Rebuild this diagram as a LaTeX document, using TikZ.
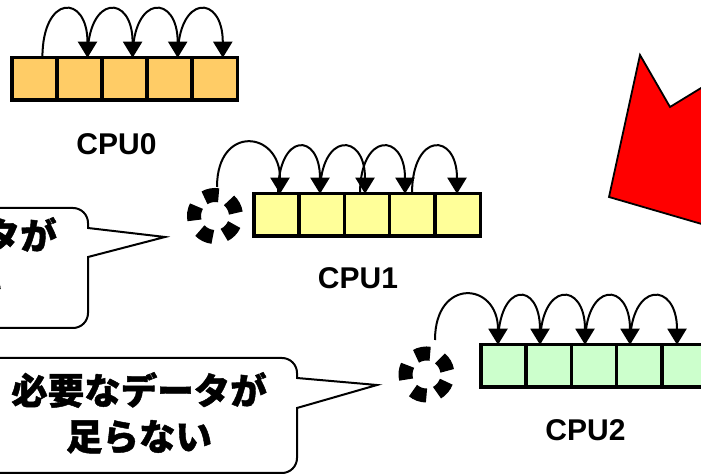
\documentclass[tikz,border=0pt]{standalone}
\usepackage{fontspec}
\setmainfont{Liberation Sans}
\newfontfamily\jpfont{Noto Sans CJK JP}[BoldFeatures={FakeBold=1.2}]
\usetikzlibrary{arrows.meta}
\definecolor{cpuorange}{RGB}{255,204,102}
\definecolor{cpuyellow}{RGB}{255,255,153}
\definecolor{cpugreen}{RGB}{204,255,204}
\tikzset{
  cell/.style={draw=black, line width=3.5pt, minimum width=45.3pt, minimum height=42.5pt, inner sep=0pt, outer sep=0pt},
  hop/.style={line width=2pt, -{Triangle[length=16pt,width=19pt]}},
  cpulabel/.style={font=\fontsize{30}{32}\selectfont\bfseries, inner sep=0pt},
  jplabel/.style={font=\jpfont\bfseries\fontsize{36.5}{46}\selectfont, align=center, inner sep=0pt},
  ringdash/.style={line width=14pt},
  ringbox/.style={circle, minimum size=56pt, inner sep=0pt, outer sep=0pt},
  balloon/.style={draw=black, line width=2pt, fill=white, line join=miter},
  bigarrow/.style={draw=black, line width=1.8pt, fill=red, line join=miter},
}
\begin{document}
\begin{tikzpicture}[x=1pt,y=1pt]
\useasboundingbox (0,0) rectangle (701,476);
\clip (0,0) rectangle (701,476);

% big red arrow (partly outside)
\path[bigarrow] (640,421) -- (670,369) -- (760,424) -- (760,235) -- (609,279) -- cycle;

% balloons
\path[balloon] (-300,268) -- (73,268) arc[start angle=90, end angle=0, radius=15] -- (88,248) -- (165,239) -- (88,219) -- (88,163) arc[start angle=0, end angle=-90, radius=15] -- (-300,148) -- cycle;
\node[jplabel] (say1) at (-71,218) {必要なデータが\\足らない};

\path[balloon] (-300,118) -- (282,118) arc[start angle=90, end angle=0, radius=15] -- (297,98) -- (377,91) -- (297,68) -- (297,18) arc[start angle=0, end angle=-90, radius=15] -- (-300,3) -- cycle;
\node[jplabel] (say2) at (139,63) {必要なデータが\\足らない};

% CPU0
\foreach \i in {0,...,4} {
  \node[cell, fill=cpuorange] (a\i) at ({34.4+45.1*\i},397) {};
}
\node[cpulabel] (lab0) at (116.5,332) {CPU0};
\foreach \i/\j in {0/1,1/2,2/3,3/4} {
  \draw[hop] ([xshift=8pt]a\i.north) .. controls +(0,64) and +(0,64) .. ([xshift=8pt]a\j.north);
}

% CPU1
\foreach \i in {0,...,4} {
  \node[cell, fill=cpuyellow] (b\i) at ({276.4+45.3*\i},261) {};
}
\node[cpulabel] (lab1) at (358,198) {CPU1};
\node[ringbox] (ring1) at (215,260) {};
\foreach \a [evaluate=\a as \s using \a+20, evaluate=\a as \e using \a-20] in {100,28,-44,-116,172} {
  \draw[ringdash] (ring1.center) ++(\s:21pt) arc[start angle=\s, end angle=\e, radius=21pt];
}
\draw[hop] ([xshift=2pt,yshift=1pt]ring1.north) .. controls +(0,63) and +(0,63) .. ([xshift=3.6pt]b0.north);
\draw[hop] ([xshift=1.6pt]b0.north) .. controls +(0,62) and +(0,62) .. ([xshift=-1.7pt]b1.north);
\draw[hop] ([xshift=-1.7pt]b1.north) .. controls +(0,62) and +(0,62) .. ([xshift=-2pt]b2.north);
\draw[hop] ([xshift=-7pt]b2.north) .. controls +(0,62) and +(0,62) .. ([xshift=-7.3pt]b3.north);
\draw[hop] ([xshift=-0.3pt]b3.north) .. controls +(0,62) and +(0,62) .. ([xshift=-0.6pt]b4.north);

% CPU2
\foreach \i in {0,...,4} {
  \node[cell, fill=cpugreen] (c\i) at ({503.4+45.3*\i},110) {};
}
\node[cpulabel] (lab2) at (585.5,46) {CPU2};
\node[ringbox] (ring2) at (426.5,101.5) {};
\foreach \a [evaluate=\a as \s using \a+20, evaluate=\a as \e using \a-20] in {100,30,-40,-110,174} {
  \draw[ringdash] (ring2.center) ++(\s:21pt) arc[start angle=\s, end angle=\e, radius=21pt];
}
\draw[hop] ([xshift=8.5pt,yshift=6.5pt]ring2.north) .. controls +(0,63) and +(0,63) .. ([xshift=-5.4pt]c0.north);
\draw[hop] ([xshift=-5.4pt]c0.north) .. controls +(0,64) and +(0,64) .. ([xshift=-8.7pt]c1.north);
\draw[hop] ([xshift=-8.7pt]c1.north) .. controls +(0,64) and +(0,64) .. ([xshift=-9pt]c2.north);
\draw[hop] ([xshift=-9pt]c2.north) .. controls +(0,64) and +(0,64) .. ([xshift=-9.3pt]c3.north);
\draw[hop] ([xshift=-9.3pt]c3.north) .. controls +(0,64) and +(0,64) .. ([xshift=-7.6pt]c4.north);
\end{tikzpicture}
\end{document}
